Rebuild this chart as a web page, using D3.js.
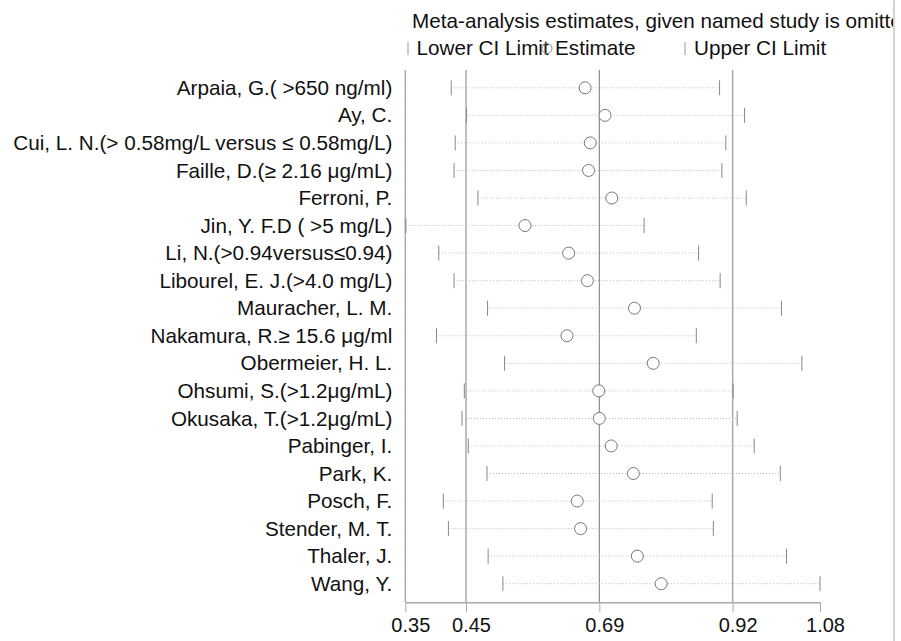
<!DOCTYPE html>
<html>
<head>
<meta charset="utf-8">
<script src="https://cdn.jsdelivr.net/npm/d3@7"></script>
<style>
  body { margin: 0; background: #fff; }
  text { font-family: "Liberation Sans", Arial, sans-serif; fill: #111; }
</style>
</head>
<body>
<script>
// studies in plot order (top to bottom)
const studies = [
  "Arpaia, G.( >650 ng/ml)",
  "Ay, C.",
  "Cui, L. N.(> 0.58mg/L versus \u2264 0.58mg/L)",
  "Faille, D.(\u2265 2.16 \u03bcg/mL)",
  "Ferroni, P.",
  "Jin, Y. F.D ( >5 mg/L)",
  "Li, N.(>0.94versus\u22640.94)",
  "Libourel, E. J.(>4.0 mg/L)",
  "Mauracher, L. M.",
  "Nakamura, R.\u2265 15.6 \u03bcg/ml",
  "Obermeier, H. L.",
  "Ohsumi, S.(>1.2\u03bcg/mL)",
  "Okusaka, T.(>1.2\u03bcg/mL)",
  "Pabinger, I.",
  "Park, K.",
  "Posch, F.",
  "Stender, M. T.",
  "Thaler, J.",
  "Wang, Y."
];
const lower    = [0.429, 0.456, 0.436, 0.434, 0.476, 0.349, 0.407, 0.434, 0.493, 0.403, 0.523, 0.452, 0.448, 0.459, 0.492, 0.415, 0.424, 0.494, 0.520];
const estimate = [0.665, 0.700, 0.674, 0.671, 0.712, 0.559, 0.636, 0.669, 0.752, 0.633, 0.785, 0.689, 0.690, 0.711, 0.750, 0.651, 0.657, 0.757, 0.799];
const upper    = [0.902, 0.946, 0.913, 0.906, 0.949, 0.769, 0.865, 0.903, 1.011, 0.861, 1.047, 0.926, 0.933, 0.963, 1.009, 0.889, 0.891, 1.020, 1.079];

// overall estimate with CI (reference lines)
const overall = [0.455, 0.69, 0.925];

// x axis ticks and their printed labels
const tickValues = [0.348, 0.455, 0.69, 0.925, 1.079];
const tickLabels = ["0.35", "0.45", "0.69", "0.92", "1.08"];

const w = 901, h = 641;
const plotLeft = 405.3, plotRight = 820, plotTop = 70, plotBottom = 602.3;
const fontSize = '20.7px';

const svg = d3.select('body').append('svg')
  .attr('width', w)
  .attr('height', h);

svg.append('clipPath').attr('id', 'clip')
  .append('rect').attr('x', 0).attr('y', 0).attr('width', 893).attr('height', h);

const xScale = d3.scaleLinear()
  .domain([tickValues[0], tickValues[tickValues.length - 1]])
  .range([plotLeft, plotRight]);

const yScale = d3.scalePoint()
  .domain(studies)
  .range([87.8, 583.7]);

// right border of the graph region
svg.append('line')
  .attr('x1', 894).attr('x2', 894).attr('y1', 0).attr('y2', h)
  .attr('stroke', '#aaa').attr('stroke-width', 1);

// left axis line
svg.append('line')
  .attr('x1', plotLeft).attr('x2', plotLeft).attr('y1', plotTop).attr('y2', plotBottom)
  .attr('stroke', '#aaa').attr('stroke-width', 1.5);

// reference lines: lower CI, estimate, upper CI
svg.selectAll('.ref')
  .data(overall)
  .enter()
  .append('line')
  .attr('class', 'ref')
  .attr('x1', d => xScale(d)).attr('x2', d => xScale(d))
  .attr('y1', plotTop).attr('y2', plotBottom)
  .attr('stroke', (d, i) => i == 1 ? '#777' : '#aaa')
  .attr('stroke-width', (d, i) => i == 1 ? 1 : 1.5);

// x axis
const xAxis = d3.axisBottom(xScale)
  .tickValues(tickValues)
  .tickFormat((d, i) => tickLabels[i])
  .tickSize(10)
  .tickSizeOuter(0)
  .tickPadding(6);

const gx = svg.append('g')
  .attr('transform', `translate(0, ${plotBottom})`)
  .call(xAxis);
gx.select('.domain').attr('stroke', '#aaa').attr('stroke-width', 1.5);
gx.selectAll('.tick line').attr('stroke', '#aaa').attr('stroke-width', 1);
gx.selectAll('.tick text')
  .attr('dx', 5)
  .style('font-size', '20px')
  .style('font-family', '"Liberation Sans", Arial, sans-serif')
  .attr('fill', '#111');

// study labels
const yAxis = d3.axisLeft(yScale).tickSize(0).tickPadding(13);
const gy = svg.append('g')
  .attr('transform', `translate(${plotLeft}, 0)`)
  .call(yAxis);
gy.select('.domain').remove();
gy.selectAll('.tick text')
  .style('font-size', fontSize)
  .style('font-family', '"Liberation Sans", Arial, sans-serif')
  .attr('fill', '#111');

// dotted CI lines
const rows = svg.append('g').selectAll('g')
  .data(studies)
  .enter()
  .append('g');

rows.append('line')
  .attr('x1', (d, i) => xScale(lower[i]))
  .attr('x2', (d, i) => xScale(upper[i]))
  .attr('y1', d => yScale(d)).attr('y2', d => yScale(d))
  .attr('stroke', '#bbb')
  .attr('stroke-width', 1)
  .attr('stroke-dasharray', '1,2');

// lower / upper limit ticks
rows.append('line')
  .attr('x1', (d, i) => xScale(lower[i])).attr('x2', (d, i) => xScale(lower[i]))
  .attr('y1', d => yScale(d) - 7.5).attr('y2', d => yScale(d) + 7.5)
  .attr('stroke', '#888').attr('stroke-width', 1);

rows.append('line')
  .attr('x1', (d, i) => xScale(upper[i])).attr('x2', (d, i) => xScale(upper[i]))
  .attr('y1', d => yScale(d) - 7.5).attr('y2', d => yScale(d) + 7.5)
  .attr('stroke', '#888').attr('stroke-width', 1);

// estimate circles
rows.append('circle')
  .attr('cx', (d, i) => xScale(estimate[i]))
  .attr('cy', d => yScale(d))
  .attr('r', 6)
  .attr('fill', '#fff')
  .attr('stroke', '#777')
  .attr('stroke-width', 1);

// title and legend (title is cut at the graph border, as in the original)
const head = svg.append('g').attr('clip-path', 'url(#clip)');
head.append('text')
  .attr('x', 412)
  .attr('y', 28)
  .style('font-size', fontSize)
  .text('Meta-analysis estimates, given named study is omitted');

head.append('line')
  .attr('x1', 408).attr('x2', 408).attr('y1', 42).attr('y2', 55)
  .attr('stroke', '#999');
head.append('text')
  .attr('x', 416.5).attr('y', 55)
  .style('font-size', fontSize)
  .text('Lower CI Limit');

head.append('circle')
  .attr('cx', 547).attr('cy', 48.5).attr('r', 5)
  .attr('fill', 'none').attr('stroke', '#888');
head.append('text')
  .attr('x', 555).attr('y', 55)
  .style('font-size', fontSize)
  .text('Estimate');

head.append('line')
  .attr('x1', 685).attr('x2', 685).attr('y1', 42).attr('y2', 55)
  .attr('stroke', '#999');
head.append('text')
  .attr('x', 694).attr('y', 55)
  .style('font-size', fontSize)
  .text('Upper CI Limit');
</script>
</body>
</html>
